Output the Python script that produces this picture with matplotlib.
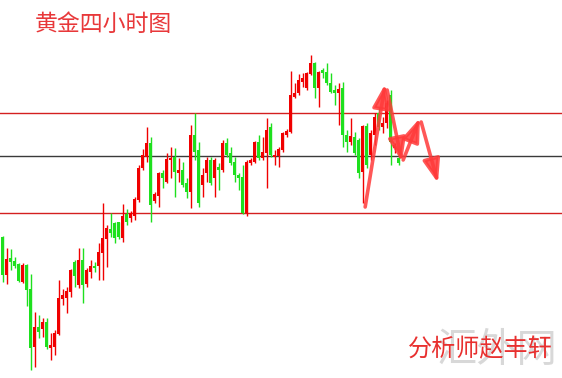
import matplotlib.pyplot as plt
import matplotlib as mpl

mpl.rcParams["font.family"] = ["Noto Sans CJK SC", "DejaVu Sans"]

# ── Data (4h candles, arbitrary price units) ──────────────────────────────────
opens = [141, 103, 120, 117, 114, 96, 113, 89, 31, 51,
         49, 56, 30, 31, 44, 79, 80, 86, 116, 93,
         118, 94, 106, 112, 112, 125, 139, 149, 155, 156,
         140, 164, 160, 162, 178, 210, 221, 235, 177, 182,
         205, 196, 218, 221, 205, 208, 195, 186, 243, 228,
         193, 205, 218, 200, 211, 208, 235, 225, 216, 203,
         201, 165, 215, 216, 236, 220, 225, 251, 221, 222,
         228, 243, 246, 281, 285, 296, 290, 304, 315, 290,
         308, 306, 295, 288, 285, 290, 243, 236, 241, 238,
         206, 252, 223, 243, 265, 251, 255, 283, 230, 220]
highs = [142, 130, 129, 121, 115, 115, 114, 104, 66, 63,
         60, 60, 45, 48, 98, 89, 91, 109, 118, 130,
         130, 110, 118, 116, 135, 175, 153, 165, 156, 156,
         174, 169, 167, 181, 213, 229, 251, 241, 186, 206,
         208, 225, 231, 230, 220, 216, 200, 253, 265, 236,
         210, 221, 221, 220, 215, 238, 240, 231, 221, 205,
         213, 218, 220, 237, 243, 241, 260, 255, 228, 231,
         246, 249, 307, 295, 304, 305, 306, 323, 316, 307,
         310, 315, 305, 293, 295, 296, 248, 260, 246, 240,
         253, 255, 248, 265, 270, 261, 278, 288, 235, 225]
lows = [96, 94, 108, 110, 96, 95, 72, 8, 11, 40,
        41, 29, 18, 23, 43, 73, 65, 81, 91, 90,
        75, 91, 100, 106, 98, 98, 111, 141, 135, 139,
        136, 153, 156, 158, 176, 208, 216, 156, 175, 171,
        190, 195, 200, 181, 196, 191, 180, 170, 218, 171,
        181, 196, 193, 181, 188, 206, 221, 213, 196, 188,
        164, 162, 213, 215, 218, 218, 190, 221, 213, 211,
        226, 241, 245, 280, 283, 291, 288, 303, 280, 271,
        300, 293, 285, 273, 253, 231, 226, 233, 223, 200,
        175, 210, 218, 233, 248, 245, 250, 213, 225, 213]
closes = [103, 119, 116, 112, 97, 113, 88, 30, 51, 46,
          56, 31, 33, 45, 80, 83, 87, 108, 102, 118,
          93, 108, 112, 110, 126, 140, 150, 145, 140, 141,
          162, 156, 165, 179, 210, 223, 235, 173, 184, 205,
          200, 219, 220, 206, 208, 193, 186, 243, 226, 175,
          203, 218, 195, 218, 208, 235, 223, 215, 203, 200,
          165, 216, 218, 236, 220, 226, 248, 223, 223, 229,
          245, 247, 283, 285, 298, 300, 305, 315, 290, 306,
          305, 295, 286, 285, 289, 243, 236, 242, 225, 205,
          252, 213, 245, 261, 251, 255, 275, 236, 233, 215]

# key levels
resistance = 265
pivot = 222
support = 165

# projected zigzag path (candle index, price)
path_x = [90.6, 95.6, 96.1, 99.8, 100.1, 104.3, 104.6, 108.8]
path_y = [171, 294, 288, 216, 218, 260, 256, 195]

UP = "#f00000"
DOWN = "#1ee01e"

# ── Plot ──────────────────────────────────────────────────────────────────────
fig = plt.figure(figsize=(5.62, 3.78), dpi=100)
ax = fig.add_axes([0, 0, 1, 1])
ax.set_xlim(-0.675, 139.8)
ax.set_ylim(0, 378)
ax.axis("off")

for lvl, col in [(resistance, "#d42020"), (pivot, "#3a3a3a"), (support, "#d42020")]:
    ax.axhline(lvl, color=col, lw=1.0, zorder=1)

for i, (o, h, l, c) in enumerate(zip(opens, highs, lows, closes)):
    col = UP if c >= o else DOWN
    ax.vlines(i, l, h, color=col, lw=1.0, zorder=2)
    ax.bar(i, max(abs(c - o), 1.5), bottom=min(o, c), width=0.72,
           color=col, edgecolor="none", zorder=3)

for k in range(0, len(path_x), 2):
    ax.annotate("", xy=(path_x[k + 1], path_y[k + 1]), xytext=(path_x[k], path_y[k]),
                arrowprops=dict(arrowstyle="-|>,head_length=1.1,head_width=0.4",
                                color="#ff3a3a", lw=2.6, alpha=0.85,
                                shrinkA=0, shrinkB=0, mutation_scale=13),
                zorder=5)

ax.text(0.062, 0.935, "黄金四小时图", transform=ax.transAxes, fontsize=16.5,
        color="#e8383a", ha="left", va="center")
ax.text(0.776, 0.128, "汇外网", transform=ax.transAxes, fontsize=29,
        color="#cccccc", alpha=0.75, ha="left", va="top", zorder=4)
ax.text(0.726, 0.075, "分析师赵丰轩", transform=ax.transAxes, fontsize=17.4,
        color="#e8302f", ha="left", va="center", zorder=6)

fig.savefig("out.png", dpi=100)
